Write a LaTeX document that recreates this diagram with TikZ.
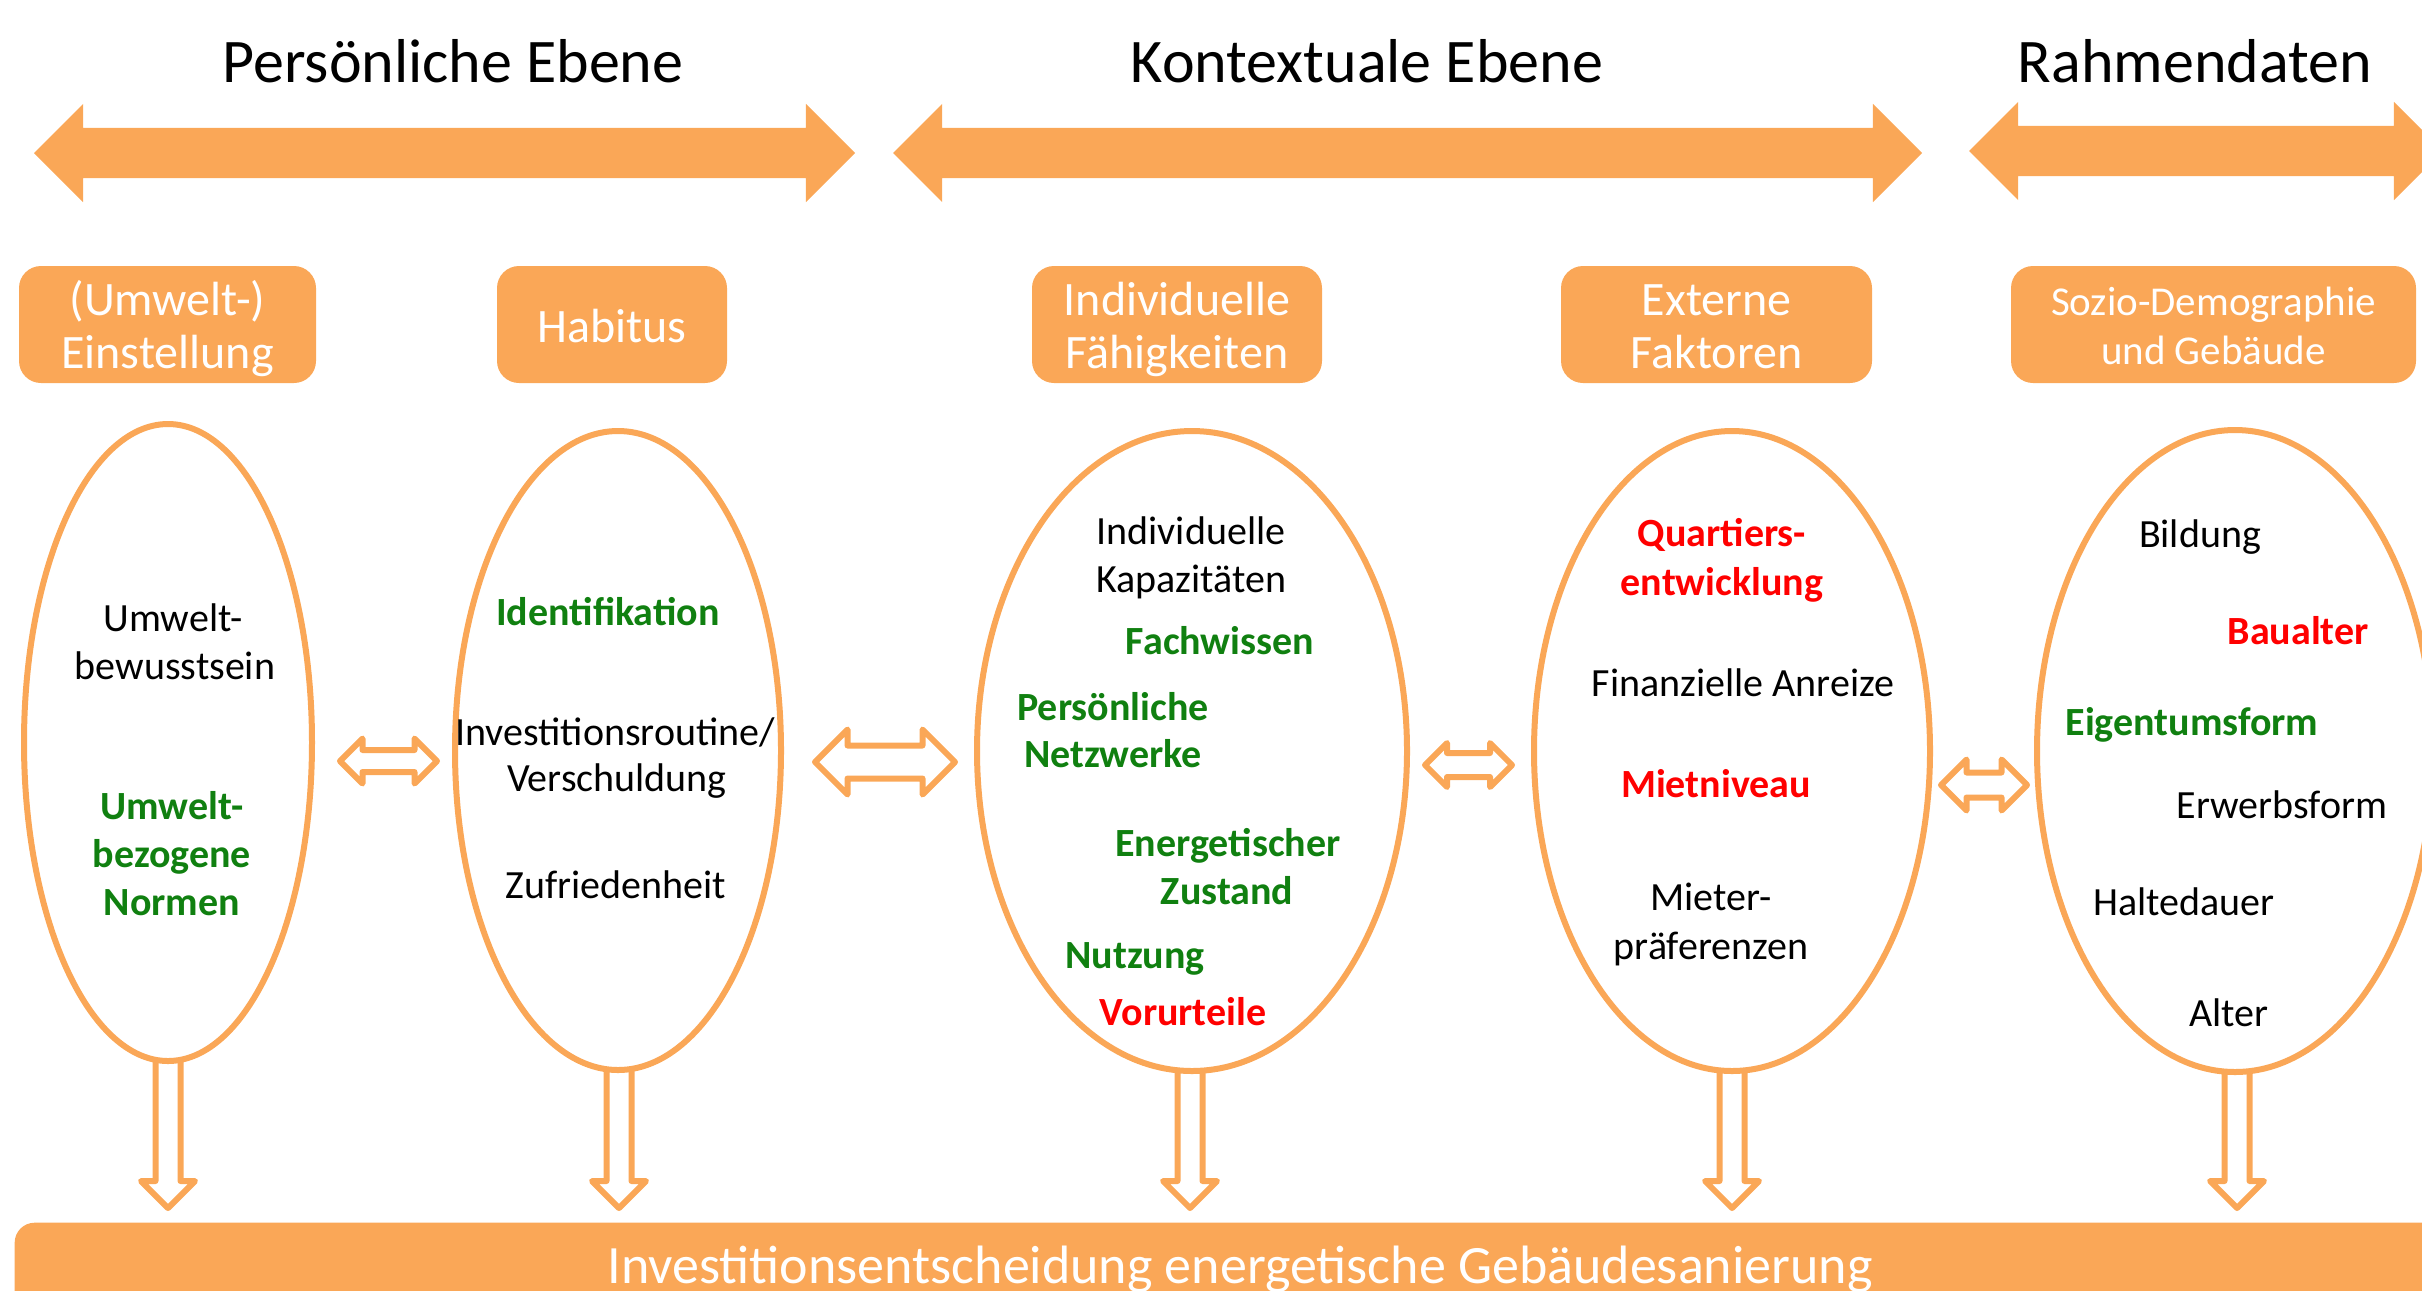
\documentclass[tikz,border=0pt]{standalone}
\usepackage{fontspec}
\setmainfont{Carlito}
\usetikzlibrary{shapes.geometric,shapes.arrows}
\newdimen\myu
\myu=0.3pt
\definecolor{orng}{RGB}{250,167,87}
\definecolor{grn}{RGB}{16,128,16}
\definecolor{rd}{RGB}{255,0,0}
\tikzset{
  title/.style={font=\fontsize{18.6}{22}\selectfont, anchor=base, inner sep=0pt},
  btxt/.style={font=\fontsize{14.4}{17}\selectfont, text=white, anchor=base, inner sep=0pt},
  stxt/.style={font=\fontsize{12.3}{15}\selectfont, text=white, anchor=base, inner sep=0pt},
  etxt/.style={font=\fontsize{12}{14.4}\selectfont, anchor=base, inner sep=0pt},
  gtxt/.style={etxt, font=\fontsize{12}{14.4}\selectfont\bfseries, text=grn},
  rtxt/.style={etxt, font=\fontsize{12}{14.4}\selectfont\bfseries, text=rd},
  obox/.style={fill=orng, rounded corners=22\myu, inner sep=0pt},
  ell/.style={ellipse, draw=orng, line width=6\myu, fill=white, inner sep=0pt},
  farrow/.style={double arrow, fill=orng, double arrow tip angle=90, inner xsep=0pt,
    inner ysep=24.5\myu, double arrow head extend=24\myu},
  harrow/.style={double arrow, draw=orng, fill=white, line width=6\myu, line join=round,
    double arrow tip angle=90, inner xsep=0pt},
  darrow/.style={single arrow, draw=orng, fill=white, line width=6\myu, line join=round,
    single arrow tip angle=90, shape border rotate=270, inner ysep=0pt,
    inner xsep=9.5\myu, single arrow head extend=14.5\myu, anchor=tail}
}
\begin{document}
\begin{tikzpicture}[x=0.3pt,y=-0.3pt]
\useasboundingbox (0,0) rectangle (2422,1290);
\clip (0,0) rectangle (2422,1290);
% level titles
\node[title] (t1) at (453,82) {Persönliche Ebene};
\node[title] (t2) at (1367,82) {Kontextuale Ebene};
\node[title] (t3) at (2195,82) {Rahmendaten};
% big arrows
\node[farrow, minimum height=821\myu] (a1) at (444.5,153) {};
\node[farrow, minimum height=1029\myu] (a2) at (1407.5,153) {};
\node[farrow, minimum height=474\myu] (a3) at (2206,151) {};
% category boxes
\node[obox, minimum width=297\myu, minimum height=117\myu] (b1) at (167.5,324.5) {};
\node[btxt] (b1a) at (167.5,315) {(Umwelt-)};
\node[btxt] (b1b) at (167.5,368) {Einstellung};
\node[obox, minimum width=230\myu, minimum height=117\myu] (b2) at (612,324.5) {};
\node[btxt] (b2a) at (612,342) {Habitus};
\node[obox, minimum width=290\myu, minimum height=117\myu] (b3) at (1177,324.5) {};
\node[btxt] (b3a) at (1177,315) {Individuelle};
\node[btxt] (b3b) at (1177,368) {Fähigkeiten};
\node[obox, minimum width=311\myu, minimum height=117\myu] (b4) at (1716.5,324.5) {};
\node[btxt] (b4a) at (1716.5,315) {Externe};
\node[btxt] (b4b) at (1716.5,368) {Faktoren};
\node[obox, minimum width=405\myu, minimum height=117\myu] (b5) at (2213.5,324.5) {};
\node[stxt] (b5a) at (2213.5,315) {Sozio-Demographie};
\node[stxt] (b5b) at (2213.5,364) {und Gebäude};
% down arrows (drawn before the ellipses so that the ellipses cover their tails)
\node[darrow, minimum height=150\myu] (d1) at (168,1055) {};
\node[darrow, minimum height=141\myu] (d2) at (619,1064) {};
\node[darrow, minimum height=140\myu] (d3) at (1190,1065) {};
\node[darrow, minimum height=140\myu] (d4) at (1732,1065) {};
\node[darrow, minimum height=139\myu] (d5) at (2237,1066) {};
% ellipses
\node[ell, minimum width=288\myu, minimum height=637\myu] (e1) at (168,742.5) {};
\node[ell, minimum width=326\myu, minimum height=639\myu] (e2) at (618,750.5) {};
\node[ell, minimum width=430\myu, minimum height=640\myu] (e3) at (1192,751) {};
\node[ell, minimum width=396\myu, minimum height=640\myu] (e4) at (1732,751) {};
\node[ell, minimum width=396\myu, minimum height=642\myu] (e5) at (2235,751) {};
% hollow double arrows between ellipses
\node[harrow, minimum height=97\myu, inner ysep=8\myu, double arrow head extend=11.5\myu] (h12) at (388.5,761) {};
\node[harrow, minimum height=140\myu, inner ysep=13.5\myu, double arrow head extend=16\myu] (h23) at (885,762) {};
\node[harrow, minimum height=87\myu, inner ysep=9\myu, double arrow head extend=10\myu] (h34) at (1468.5,765) {};
\node[harrow, minimum height=86\myu, inner ysep=9.5\myu, double arrow head extend=13\myu] (h45) at (1984,785) {};
% texts in ellipse 1
\node[etxt] (e1a) at (173,631) {Umwelt-};
\node[etxt] (e1b) at (175,679) {bewusstsein};
\node[gtxt] (e1c) at (172,819) {Umwelt-};
\node[gtxt] (e1d) at (172,867) {bezogene};
\node[gtxt] (e1e) at (172,915) {Normen};
% texts in ellipse 2
\node[gtxt] (e2a) at (608,625) {Identifikation};
\node[etxt] (e2b) at (615,745) {Investitionsroutine/};
\node[etxt] (e2c) at (617,791) {Verschuldung};
\node[etxt] (e2d) at (616,898) {Zufriedenheit};
% texts in ellipse 3
\node[etxt] (e3a) at (1191,544) {Individuelle};
\node[etxt] (e3b) at (1191,592) {Kapazitäten};
\node[gtxt] (e3c) at (1220,654) {Fachwissen};
\node[gtxt] (e3d) at (1113,720) {Persönliche};
\node[gtxt] (e3e) at (1113,767) {Netzwerke};
\node[gtxt] (e3f) at (1228,856) {Energetischer};
\node[gtxt] (e3g) at (1227,904) {Zustand};
\node[gtxt] (e3h) at (1135,968) {Nutzung};
\node[rtxt] (e3i) at (1183,1025) {Vorurteile};
% texts in ellipse 4
\node[rtxt] (e4a) at (1722,546) {Quartiers-};
\node[rtxt] (e4b) at (1722,595) {entwicklung};
\node[etxt] (e4c) at (1743,696) {Finanzielle Anreize};
\node[rtxt] (e4d) at (1716,797) {Mietniveau};
\node[etxt] (e4e) at (1711,910) {Mieter-};
\node[etxt] (e4f) at (1711,959) {präferenzen};
% texts in ellipse 5
\node[etxt] (e5a) at (2200,547) {Bildung};
\node[rtxt] (e5b) at (2298,644) {Baualter};
\node[gtxt] (e5c) at (2192,735) {Eigentumsform};
\node[etxt] (e5d) at (2282,818) {Erwerbsform};
\node[etxt] (e5e) at (2184,915) {Haltedauer};
\node[etxt] (e5f) at (2229,1026) {Alter};
% bottom bar
\node[obox, rounded corners=20\myu, anchor=north west, minimum width=2500\myu, minimum height=150\myu] (bar) at (14,1222) {};
\node[font=\fontsize{16.2}{19}\selectfont, text=white, anchor=base, inner sep=0pt] (bart) at (1240,1283) {Investitionsentscheidung energetische Gebäudesanierung};
\end{tikzpicture}
\end{document}
